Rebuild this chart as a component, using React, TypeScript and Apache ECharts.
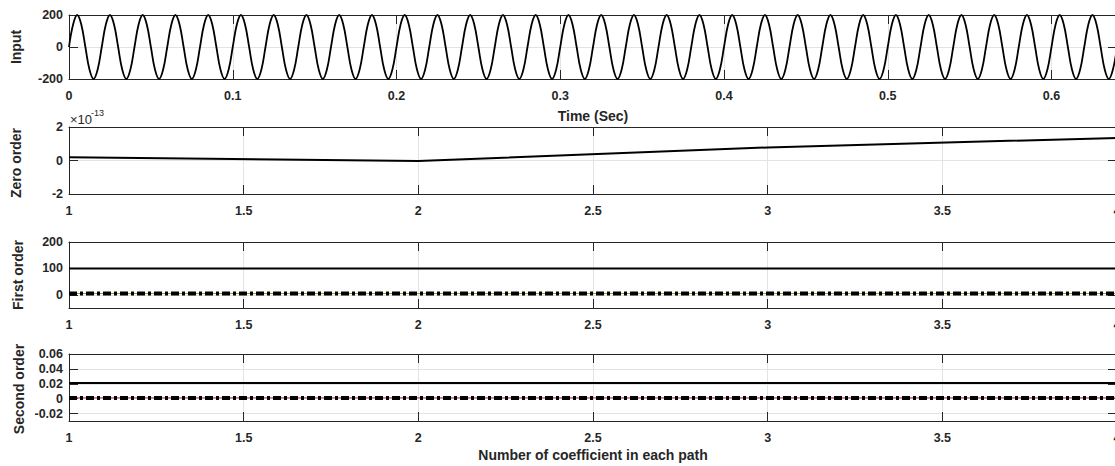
import React, { useEffect, useRef } from "react";
import * as echarts from "echarts";

// ---- data ----
// Input signal: 50 Hz sine of amplitude 200, sampled every eighth of a period
const INPUT_STEP = 0.0025; // seconds between samples
const INPUT_VALUES = [
  0, 141, 200, 141, 0, -141, -200, -141, 0, 141, 200, 141, 0, -141, -200, -141,
  0, 141, 200, 141, 0, -141, -200, -141, 0, 141, 200, 141, 0, -141, -200, -141,
  0, 141, 200, 141, 0, -141, -200, -141, 0, 141, 200, 141, 0, -141, -200, -141,
  0, 141, 200, 141, 0, -141, -200, -141, 0, 141, 200, 141, 0, -141, -200, -141,
  0, 141, 200, 141, 0, -141, -200, -141, 0, 141, 200, 141, 0, -141, -200, -141,
  0, 141, 200, 141, 0, -141, -200, -141, 0, 141, 200, 141, 0, -141, -200, -141,
  0, 141, 200, 141, 0, -141, -200, -141, 0, 141, 200, 141, 0, -141, -200, -141,
  0, 141, 200, 141, 0, -141, -200, -141, 0, 141, 200, 141, 0, -141, -200, -141,
  0, 141, 200, 141, 0, -141, -200, -141, 0, 141, 200, 141, 0, -141, -200, -141,
  0, 141, 200, 141, 0, -141, -200, -141, 0, 141, 200, 141, 0, -141, -200, -141,
  0, 141, 200, 141, 0, -141, -200, -141, 0, 141, 200, 141, 0, -141, -200, -141,
  0, 141, 200, 141, 0, -141, -200, -141, 0, 141, 200, 141, 0, -141, -200, -141,
  0, 141, 200, 141, 0, -141, -200, -141, 0, 141, 200, 141, 0, -141, -200, -141,
  0, 141, 200, 141, 0, -141, -200, -141, 0, 141, 200, 141, 0, -141, -200, -141,
  0, 141, 200, 141, 0, -141, -200, -141, 0, 141, 200, 141, 0, -141, -200, -141,
  0, 141, 200, 141, 0, -141, -200, -141, 0, 141, 200, 141, 0, -141, -200, -141,
  0,
];

const COEF_COUNT = [1, 2, 3, 4];
const ZERO_ORDER = [2.0e-14, -0.3e-14, 7.8e-14, 1.35e-13];
const FIRST_ORDER_MAIN = [100, 100, 100, 100];
const FIRST_ORDER_LOW = [5, 5, 5, 5];
const SECOND_ORDER_MAIN = [0.021, 0.021, 0.021, 0.021];
const SECOND_ORDER_LOW = [0.001, 0.001, 0.001, 0.001];

// ---- ticks ----
const TIME_TICKS = [0, 0.1, 0.2, 0.3, 0.4, 0.5, 0.6];
const COEF_TICKS = [1, 1.5, 2, 2.5, 3, 3.5, 4];
const INPUT_Y_TICKS = [-200, 0, 200];
const ZERO_Y_TICKS = [-2e-13, 0, 2e-13];
const FIRST_Y_TICKS = [0, 100, 200];
const SECOND_Y_TICKS = [-0.02, 0, 0.02, 0.04, 0.06];

const FONT = "'Liberation Sans', Arial, Helvetica, sans-serif";
const INK = "#262626";
const GRID_LINE = "#e3e3e3";

const fmtNum = (v: number) => String(parseFloat(v.toFixed(4)));
const fmtExp = (v: number) => String(Math.round(v / 1e-13));

function xAxes(gridIndex: number, min: number, max: number, ticks: number[]) {
  const base = {
    type: "value",
    gridIndex,
    min,
    max,
    axisLine: { show: true, onZero: false, lineStyle: { color: INK, width: 1 } },
    axisTick: { show: true, inside: true, length: 9, customValues: ticks, lineStyle: { color: INK, width: 1 } },
  };
  return [
    {
      ...base,
      position: "bottom",
      axisLabel: {
        show: true,
        customValues: ticks,
        margin: 10,
        color: INK,
        fontSize: 12.5,
        fontWeight: "bold",
        fontFamily: FONT,
        formatter: fmtNum,
      },
      splitLine: { show: true, lineStyle: { color: GRID_LINE, width: 1 } },
    },
    {
      ...base,
      position: "top",
      axisLabel: { show: false },
      splitLine: { show: false },
    },
  ];
}

function yAxes(gridIndex: number, min: number, max: number, ticks: number[], formatter: (v: number) => string) {
  const base = {
    type: "value",
    gridIndex,
    min,
    max,
    axisLine: { show: true, onZero: false, lineStyle: { color: INK, width: 1 } },
    axisTick: { show: true, inside: true, length: 9, customValues: ticks, lineStyle: { color: INK, width: 1 } },
  };
  return [
    {
      ...base,
      position: "left",
      axisLabel: {
        show: true,
        customValues: ticks,
        margin: 6,
        color: INK,
        fontSize: 12.5,
        fontWeight: "bold",
        fontFamily: FONT,
        formatter,
      },
      splitLine: { show: true, lineStyle: { color: GRID_LINE, width: 1 } },
    },
    {
      ...base,
      position: "right",
      axisLabel: { show: false },
      splitLine: { show: false },
    },
  ];
}

function line(name: string, xIdx: number, yIdx: number, data: number[][], style: any, z = 2) {
  return {
    name,
    type: "line",
    xAxisIndex: xIdx,
    yAxisIndex: yIdx,
    data,
    showSymbol: false,
    symbol: "none",
    silent: true,
    z,
    lineStyle: style,
  };
}

function title(text: string, x: number, y: number, rotate = false) {
  return {
    type: "text",
    x,
    y,
    rotation: rotate ? Math.PI / 2 : 0,
    silent: true,
    style: {
      text,
      fill: INK,
      font: `bold 14px ${FONT}`,
      textAlign: "center",
      textVerticalAlign: "middle",
    },
  };
}

export default function App() {
  const ref = useRef<HTMLDivElement>(null);

  useEffect(() => {
    if (!ref.current) return;
    const chart = echarts.init(ref.current, null, { renderer: "svg" });

    const inputData = INPUT_VALUES.map((v, i) => [i * INPUT_STEP, v]);
    const pair = (ys: number[]) => COEF_COUNT.map((x, i) => [x, ys[i]]);

    const option = {
      animation: false,
      backgroundColor: "#ffffff",
      grid: [
        { left: 69, right: 8, top: 15, height: 64 },
        { left: 69, right: 8, top: 127, height: 67 },
        { left: 69, right: 8, top: 242, height: 66 },
        { left: 69, right: 8, top: 354, height: 67 },
      ],
      xAxis: [
        ...xAxes(0, 0, 0.64, TIME_TICKS),
        ...xAxes(1, 1, 4, COEF_TICKS),
        ...xAxes(2, 1, 4, COEF_TICKS),
        ...xAxes(3, 1, 4, COEF_TICKS),
      ],
      yAxis: [
        ...yAxes(0, -200, 200, INPUT_Y_TICKS, fmtNum),
        ...yAxes(1, -2e-13, 2e-13, ZERO_Y_TICKS, fmtExp),
        ...yAxes(2, -50, 200, FIRST_Y_TICKS, fmtNum),
        ...yAxes(3, -0.03, 0.06, SECOND_Y_TICKS, fmtNum),
      ],
      series: [
        {
          ...line("Input", 0, 0, inputData, { color: "#000000", width: 1.8 }),
          smooth: 0.4,
        },
        line("Zero order", 2, 2, pair(ZERO_ORDER), { color: "#000000", width: 2 }),
        line("First order", 4, 4, pair(FIRST_ORDER_MAIN), { color: "#000000", width: 2 }),
        line("First order low", 4, 4, pair(FIRST_ORDER_LOW), { color: "#77ac30", width: 1.2 }, 2),
        line(
          "First order dash-dot",
          4,
          4,
          pair(FIRST_ORDER_LOW),
          { color: "#000000", width: 4, type: [8, 3, 3, 3], cap: "butt" },
          3
        ),
        line("Second order", 6, 6, pair(SECOND_ORDER_MAIN), { color: "#000000", width: 2 }),
        line("Second order low", 6, 6, pair(SECOND_ORDER_LOW), { color: "#c0506a", width: 1.2 }, 2),
        line(
          "Second order dash-dot",
          6,
          6,
          pair(SECOND_ORDER_LOW),
          { color: "#000000", width: 4, type: [8, 3, 3, 3], cap: "butt" },
          3
        ),
      ],
      graphic: [
        title("Input", 16, 47, true),
        title("Zero order", 16, 163, true),
        title("First order", 18, 275, true),
        title("Second order", 19, 389, true),
        title("Time (Sec)", 593, 116),
        title("Number of coefficient in each path", 593, 455),
        {
          type: "text",
          x: 70,
          y: 119,
          silent: true,
          style: { text: "×10", fill: INK, font: `13px ${FONT}`, textAlign: "left", textVerticalAlign: "middle" },
        },
        {
          type: "text",
          x: 91,
          y: 113,
          silent: true,
          style: { text: "-13", fill: INK, font: `9px ${FONT}`, textAlign: "left", textVerticalAlign: "middle" },
        },
      ],
    };

    chart.setOption(option as any);
    return () => chart.dispose();
  }, []);

  return (
    <div
      ref={ref}
      style={{ position: "fixed", left: 0, top: 0, width: 1125, height: 466, background: "#ffffff" }}
    />
  );
}
